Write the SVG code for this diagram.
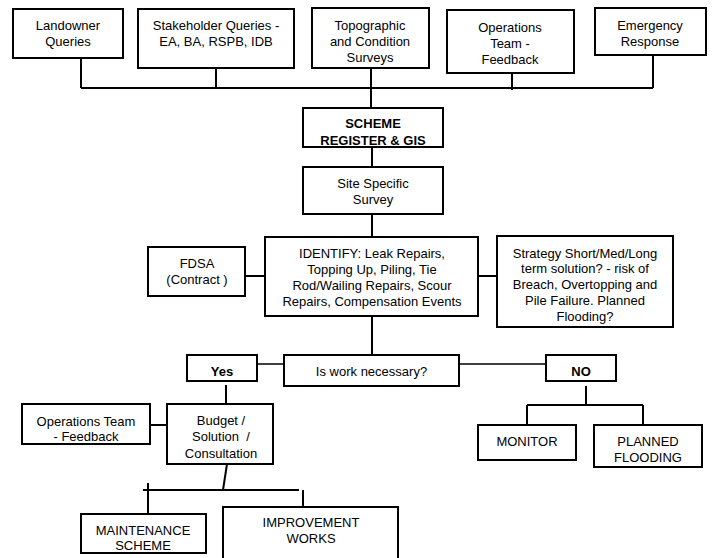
<svg xmlns="http://www.w3.org/2000/svg" width="714" height="558" viewBox="0 0 714 558">
<style>
rect{fill:#fff;stroke:#000;stroke-width:2}
text{font-family:"Liberation Sans",Arial,sans-serif;font-size:13px;fill:#000;text-anchor:middle}
.b{font-weight:bold}
#connectors path{fill:none;stroke:#000;stroke-width:2}
</style>
<rect x="0" y="0" width="714" height="558" style="stroke:none"/>
<g id="connectors">
<path d="M81 58V88M216 68V88M81 88H653M371 68V108M512 73V90M653 55V88"/>
<path d="M372 147V167M372 214V237M245 276H265M478 276H497M372 316V355"/>
<path d="M257 364H284M459 364H546" style="stroke-width:1.5"/>
<path d="M586 386V405M527 405H643M527 405V425M643 405V425"/>
<path d="M226 385V404M148 425H167M148.5 422V428"/>
<path d="M227 464L223 490M143 490H299M148 483V514M303 490V507"/>
</g>
<g id="landowner"><rect x="13" y="9" width="110" height="49"/><text x="68" y="29.5">Landowner</text><text x="68" y="45.5">Queries</text></g>
<g id="stakeholder"><rect x="138" y="9" width="156" height="59"/><text x="216" y="29.5">Stakeholder Queries -</text><text x="216" y="45.5">EA, BA, RSPB, IDB</text></g>
<g id="topographic"><rect x="312" y="8" width="117" height="60"/><text x="370" y="29.5">Topographic</text><text x="370" y="45.5">and Condition</text><text x="370" y="61.5">Surveys</text></g>
<g id="operations-top"><rect x="447" y="10" width="127" height="63"/><text x="510" y="31.5">Operations</text><text x="510" y="47.5">Team -</text><text x="510" y="63.5">Feedback</text></g>
<g id="emergency"><rect x="595" y="8" width="111" height="47"/><text x="650" y="29.5">Emergency</text><text x="650" y="46">Response</text></g>
<g id="scheme"><rect x="303" y="108" width="140" height="39"/><text class="b" x="373" y="128">SCHEME</text><text class="b" x="373" y="144.5">REGISTER &amp; GIS</text></g>
<g id="site"><rect x="303" y="167" width="140" height="47"/><text x="373" y="188">Site Specific</text><text x="373" y="204">Survey</text></g>
<g id="identify"><rect x="265" y="237" width="213" height="79"/><text x="372" y="258">IDENTIFY: Leak Repairs,</text><text x="372" y="274">Topping Up, Piling, Tie</text><text x="372" y="290">Rod/Wailing Repairs, Scour</text><text x="372" y="306">Repairs, Compensation Events</text></g>
<g id="fdsa"><rect x="148" y="247" width="97" height="49"/><text x="197" y="268">FDSA</text><text x="197" y="284">(Contract )</text></g>
<g id="strategy"><rect x="497" y="236" width="176" height="91"/><text x="585" y="257.5">Strategy Short/Med/Long</text><text x="585" y="273.3">term solution? - risk of</text><text x="585" y="289">Breach, Overtopping and</text><text x="585" y="305">Pile Failure. Planned</text><text x="585" y="321">Flooding?</text></g>
<g id="iswork"><rect x="284" y="355" width="175" height="31"/><text x="371.5" y="376">Is work necessary?</text></g>
<g id="yes"><rect x="187" y="355" width="70" height="26"/><text class="b" x="222" y="376">Yes</text></g>
<g id="no"><rect x="546" y="355" width="70" height="26"/><text class="b" x="581" y="376">NO</text></g>
<g id="monitor"><rect x="478" y="425" width="98" height="35"/><text x="527" y="445.5">MONITOR</text></g>
<g id="planned"><rect x="594" y="425" width="108" height="42"/><text x="648" y="445.5">PLANNED</text><text x="648" y="461.5">FLOODING</text></g>
<g id="budget"><rect x="167" y="404" width="106" height="60"/><text x="221" y="424.5">Budget /</text><text x="221" y="441">Solution&#160; /</text><text x="221" y="457.5">Consultation</text></g>
<g id="operations-left"><rect x="22" y="404" width="128" height="40"/><text x="86" y="425.5">Operations Team</text><text x="86" y="441">- Feedback</text></g>
<g id="maintenance"><rect x="81" y="514" width="125" height="39"/><text x="143" y="534.5">MAINTENANCE</text><text x="143" y="550">SCHEME</text></g>
<g id="improvement"><rect x="223" y="507" width="175" height="60"/><text x="311" y="526.5">IMPROVEMENT</text><text x="311" y="542.5">WORKS</text></g>
</svg>
